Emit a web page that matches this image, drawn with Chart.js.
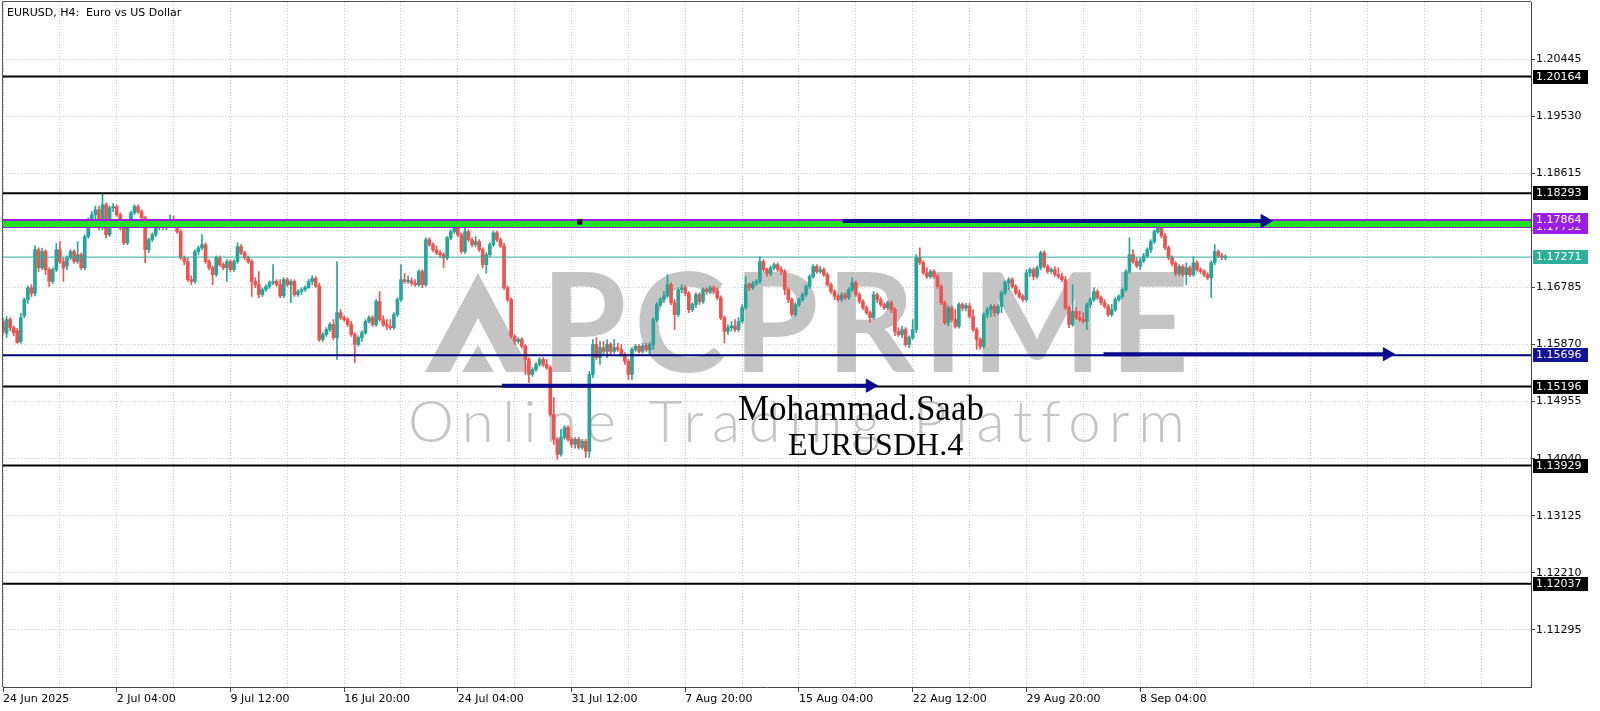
<!DOCTYPE html>
<html><head><meta charset="utf-8">
<script src="https://cdn.jsdelivr.net/npm/chart.js@4.4.1/dist/chart.umd.min.js"></script>
<style>html,body{margin:0;padding:0;background:#fff;overflow:hidden}canvas{display:block}</style>
</head><body>
<canvas id="c" width="1600" height="711"></canvas>
<script>
// ---------- DATA (EURUSD H4) ----------
const opens=[
1.1624,1.1605,1.1627,1.1614,1.1609,1.1592,1.1633,1.1659,1.1678,1.1669,
1.1739,1.1710,1.1736,1.1707,1.1688,1.1707,1.1739,1.1720,1.1713,1.1726,
1.1736,1.1720,1.1731,1.1710,1.1760,1.1784,1.1795,1.1803,1.1774,1.1811,
1.1763,1.1806,1.1808,1.1795,1.1774,1.1750,1.1779,1.1798,1.1808,1.1800,
1.1790,1.1739,1.1755,1.1763,1.1774,1.1784,1.1774,1.1784,1.1787,1.1779,
1.1768,1.1726,1.1720,1.1691,1.1688,1.1736,1.1742,1.1747,1.1720,1.1710,
1.1699,1.1726,1.1715,1.1710,1.1720,1.1707,1.1720,1.1744,1.1734,1.1726,
1.1720,1.1688,1.1683,1.1667,1.1675,1.1680,1.1686,1.1688,1.1683,1.1665,
1.1691,1.1683,1.1688,1.1667,1.1672,1.1675,1.1678,1.1688,1.1693,1.1681,
1.1595,1.1603,1.1611,1.1619,1.1598,1.1638,1.1630,1.1627,1.1619,1.1603,
1.1587,1.1598,1.1606,1.1624,1.1630,1.1619,1.1656,1.1627,1.1619,1.1616,
1.1614,1.1635,1.1659,1.1691,1.1688,1.1689,1.1685,1.1683,1.1704,1.1683,
1.1755,1.1747,1.1739,1.1734,1.1731,1.1726,1.1758,1.1768,1.1774,1.1763,
1.1736,1.1768,1.1755,1.1747,1.1752,1.1739,1.1715,1.1731,1.1747,1.1766,
1.1755,1.1745,1.1678,1.1659,1.1600,1.1592,1.1595,1.1584,1.1563,1.1539,
1.1547,1.1555,1.1563,1.1555,1.1550,1.1475,1.1435,1.1411,1.1438,1.1454,
1.1435,1.1427,1.1435,1.1422,1.1432,1.1416,1.1539,1.1587,1.1566,1.1582,
1.1576,1.1587,1.1576,1.1582,1.1579,1.1571,1.1560,1.1539,1.1579,1.1584,
1.1576,1.1585,1.1579,1.1587,1.1627,1.1651,1.1659,1.1665,1.1683,1.1654,
1.1635,1.1675,1.1678,1.1669,1.1643,1.1651,1.1667,1.1656,1.1675,1.1672,
1.1678,1.1673,1.1662,1.1630,1.1608,1.1614,1.1617,1.1611,1.1624,1.1646,
1.1683,1.1678,1.1685,1.1688,1.1720,1.1707,1.1701,1.1710,1.1715,1.1707,
1.1704,1.1675,1.1659,1.1635,1.1651,1.1659,1.1667,1.1680,1.1696,1.1712,
1.1704,1.1707,1.1699,1.1683,1.1672,1.1664,1.1659,1.1667,1.1662,1.1675,
1.1686,1.1667,1.1656,1.1646,1.1638,1.1630,1.1667,1.1659,1.1651,1.1646,
1.1654,1.1643,1.1608,1.1603,1.1611,1.1587,1.1598,1.1611,1.1726,1.1718,
1.1702,1.1696,1.1704,1.1696,1.1680,1.1654,1.1622,1.1646,1.1627,1.1616,
1.1651,1.1645,1.1649,1.1632,1.1611,1.1595,1.1584,1.1635,1.1643,1.1648,
1.1638,1.1648,1.1670,1.1686,1.1691,1.1680,1.1670,1.1664,1.1659,1.1702,
1.1707,1.1696,1.1710,1.1734,1.1712,1.1704,1.1707,1.1699,1.1696,1.1691,
1.1646,1.1619,1.1640,1.1630,1.1627,1.1624,1.1651,1.1659,1.1672,1.1662,
1.1654,1.1648,1.1635,1.1643,1.1659,1.1664,1.1675,1.1704,1.1731,1.1720,
1.1713,1.1721,1.1729,1.1739,1.1752,1.1768,1.1774,1.1761,1.1742,1.1726,
1.1717,1.1701,1.1712,1.1699,1.1710,1.1699,1.1718,1.1707,1.1704,1.1699,
1.1694,1.1718,1.1736,1.1729,1.1726];
const highs=[
1.1629,1.1632,1.1630,1.1617,1.1613,1.1637,1.1662,1.1681,1.1683,1.1745,
1.1742,1.1741,1.1739,1.1710,1.1710,1.1749,1.1752,1.1726,1.1729,1.1739,
1.1739,1.1752,1.1734,1.1763,1.1790,1.1800,1.1809,1.1809,1.1829,1.1814,
1.1809,1.1813,1.1811,1.1798,1.1777,1.1782,1.1801,1.1811,1.1811,1.1803,
1.1793,1.1758,1.1766,1.1777,1.1787,1.1787,1.1787,1.1795,1.1793,1.1782,
1.1771,1.1729,1.1726,1.1697,1.1739,1.1745,1.1763,1.1750,1.1723,1.1713,
1.1729,1.1729,1.1718,1.1723,1.1723,1.1723,1.1750,1.1747,1.1737,1.1729,
1.1723,1.1694,1.1704,1.1678,1.1683,1.1689,1.1715,1.1691,1.1691,1.1694,
1.1694,1.1691,1.1691,1.1675,1.1678,1.1681,1.1691,1.1697,1.1696,1.1685,
1.1606,1.1614,1.1622,1.1627,1.1720,1.1643,1.1633,1.1630,1.1624,1.1606,
1.1601,1.1609,1.1627,1.1633,1.1633,1.1659,1.1672,1.1633,1.1627,1.1627,
1.1638,1.1662,1.1715,1.1701,1.1697,1.1694,1.1691,1.1707,1.1707,1.1758,
1.1758,1.1750,1.1745,1.1737,1.1734,1.1760,1.1771,1.1784,1.1784,1.1766,
1.1779,1.1771,1.1758,1.1760,1.1755,1.1742,1.1734,1.1750,1.1769,1.1769,
1.1758,1.1749,1.1681,1.1662,1.1603,1.1598,1.1598,1.1587,1.1566,1.1550,
1.1558,1.1566,1.1566,1.1563,1.1553,1.1502,1.1438,1.1451,1.1457,1.1457,
1.1438,1.1438,1.1438,1.1435,1.1435,1.1544,1.1595,1.1598,1.1592,1.1592,
1.1595,1.1590,1.1595,1.1589,1.1587,1.1574,1.1563,1.1582,1.1587,1.1587,
1.1589,1.1589,1.1590,1.1630,1.1654,1.1662,1.1672,1.1699,1.1686,1.1659,
1.1678,1.1683,1.1681,1.1672,1.1654,1.1670,1.1670,1.1678,1.1678,1.1681,
1.1681,1.1678,1.1665,1.1633,1.1619,1.1624,1.1627,1.1630,1.1651,1.1696,
1.1686,1.1688,1.1691,1.1728,1.1723,1.1710,1.1713,1.1718,1.1718,1.1712,
1.1707,1.1678,1.1662,1.1654,1.1662,1.1670,1.1683,1.1699,1.1715,1.1715,
1.1712,1.1710,1.1702,1.1686,1.1675,1.1667,1.1670,1.1670,1.1678,1.1694,
1.1689,1.1670,1.1659,1.1649,1.1641,1.1672,1.1670,1.1662,1.1654,1.1657,
1.1657,1.1646,1.1614,1.1616,1.1614,1.1601,1.1627,1.1731,1.1742,1.1721,
1.1710,1.1707,1.1707,1.1699,1.1683,1.1657,1.1649,1.1649,1.1643,1.1654,
1.1654,1.1653,1.1653,1.1643,1.1614,1.1598,1.1638,1.1646,1.1651,1.1651,
1.1651,1.1673,1.1689,1.1694,1.1694,1.1683,1.1675,1.1667,1.1707,1.1710,
1.1710,1.1713,1.1737,1.1737,1.1715,1.1710,1.1712,1.1710,1.1702,1.1696,
1.1649,1.1683,1.1646,1.1640,1.1638,1.1654,1.1662,1.1678,1.1675,1.1665,
1.1659,1.1651,1.1651,1.1662,1.1667,1.1678,1.1707,1.1758,1.1739,1.1726,
1.1726,1.1733,1.1742,1.1755,1.1771,1.1779,1.1777,1.1765,1.1745,1.1729,
1.1720,1.1715,1.1715,1.1718,1.1713,1.1728,1.1721,1.1710,1.1707,1.1702,
1.1721,1.1747,1.1739,1.1733,1.1731];
const lows=[
1.1603,1.1598,1.1609,1.1601,1.1589,1.1589,1.1630,1.1653,1.1664,1.1665,
1.1704,1.1707,1.1699,1.1680,1.1685,1.1704,1.1717,1.1688,1.1707,1.1723,
1.1717,1.1717,1.1707,1.1707,1.1757,1.1779,1.1787,1.1771,1.1771,1.1758,
1.1760,1.1800,1.1792,1.1771,1.1747,1.1747,1.1776,1.1795,1.1797,1.1787,
1.1718,1.1734,1.1752,1.1760,1.1771,1.1771,1.1771,1.1781,1.1776,1.1765,
1.1723,1.1715,1.1688,1.1683,1.1685,1.1731,1.1739,1.1717,1.1707,1.1683,
1.1696,1.1712,1.1707,1.1688,1.1704,1.1704,1.1717,1.1731,1.1723,1.1717,
1.1664,1.1678,1.1662,1.1664,1.1672,1.1677,1.1683,1.1680,1.1662,1.1662,
1.1680,1.1654,1.1664,1.1664,1.1667,1.1672,1.1677,1.1683,1.1678,1.1592,
1.1592,1.1600,1.1608,1.1595,1.1563,1.1627,1.1624,1.1616,1.1600,1.1558,
1.1584,1.1592,1.1603,1.1621,1.1616,1.1616,1.1624,1.1616,1.1611,1.1611,
1.1611,1.1632,1.1656,1.1685,1.1685,1.1681,1.1680,1.1680,1.1678,1.1680,
1.1744,1.1736,1.1731,1.1726,1.1710,1.1723,1.1755,1.1765,1.1760,1.1733,
1.1733,1.1752,1.1744,1.1744,1.1736,1.1710,1.1701,1.1728,1.1744,1.1752,
1.1742,1.1675,1.1656,1.1597,1.1587,1.1589,1.1581,1.1539,1.1526,1.1536,
1.1544,1.1552,1.1552,1.1547,1.1472,1.1427,1.1403,1.1408,1.1435,1.1432,
1.1422,1.1421,1.1419,1.1419,1.1406,1.1406,1.1534,1.1563,1.1555,1.1570,
1.1566,1.1571,1.1573,1.1576,1.1568,1.1555,1.1531,1.1531,1.1576,1.1573,
1.1573,1.1576,1.1570,1.1579,1.1624,1.1648,1.1654,1.1662,1.1651,1.1611,
1.1632,1.1670,1.1665,1.1638,1.1640,1.1646,1.1651,1.1653,1.1667,1.1669,
1.1670,1.1659,1.1627,1.1590,1.1603,1.1609,1.1608,1.1608,1.1621,1.1643,
1.1673,1.1675,1.1681,1.1685,1.1704,1.1696,1.1697,1.1707,1.1704,1.1699,
1.1667,1.1654,1.1632,1.1632,1.1648,1.1656,1.1664,1.1677,1.1693,1.1701,
1.1701,1.1696,1.1680,1.1669,1.1659,1.1656,1.1656,1.1659,1.1659,1.1672,
1.1664,1.1653,1.1643,1.1635,1.1622,1.1627,1.1654,1.1648,1.1643,1.1643,
1.1638,1.1601,1.1600,1.1598,1.1584,1.1582,1.1595,1.1606,1.1715,1.1699,
1.1693,1.1693,1.1693,1.1677,1.1651,1.1619,1.1617,1.1624,1.1613,1.1613,
1.1641,1.1641,1.1629,1.1608,1.1579,1.1579,1.1581,1.1630,1.1632,1.1632,
1.1635,1.1638,1.1667,1.1675,1.1677,1.1667,1.1661,1.1656,1.1656,1.1696,
1.1691,1.1693,1.1707,1.1710,1.1701,1.1701,1.1696,1.1693,1.1688,1.1643,
1.1614,1.1616,1.1627,1.1624,1.1621,1.1611,1.1646,1.1656,1.1659,1.1651,
1.1645,1.1632,1.1632,1.1640,1.1656,1.1661,1.1672,1.1701,1.1717,1.1710,
1.1707,1.1718,1.1726,1.1734,1.1749,1.1765,1.1758,1.1739,1.1723,1.1713,
1.1697,1.1697,1.1696,1.1683,1.1696,1.1696,1.1704,1.1701,1.1696,1.1691,
1.1662,1.1715,1.1726,1.1723,1.1723];
const closes=[
1.1608,1.1627,1.1614,1.1606,1.1590,1.1630,1.1659,1.1678,1.1669,1.1739,
1.1710,1.1736,1.1707,1.1688,1.1707,1.1739,1.1720,1.1710,1.1726,1.1736,
1.1720,1.1731,1.1710,1.1760,1.1784,1.1795,1.1803,1.1774,1.1811,1.1763,
1.1806,1.1808,1.1795,1.1774,1.1750,1.1779,1.1798,1.1808,1.1800,1.1790,
1.1739,1.1755,1.1763,1.1774,1.1784,1.1774,1.1784,1.1787,1.1779,1.1768,
1.1726,1.1720,1.1691,1.1688,1.1736,1.1742,1.1747,1.1720,1.1710,1.1699,
1.1726,1.1715,1.1710,1.1720,1.1707,1.1720,1.1744,1.1734,1.1726,1.1720,
1.1688,1.1683,1.1667,1.1675,1.1680,1.1686,1.1688,1.1683,1.1665,1.1691,
1.1683,1.1688,1.1667,1.1672,1.1675,1.1678,1.1688,1.1693,1.1681,1.1595,
1.1603,1.1611,1.1619,1.1598,1.1638,1.1630,1.1627,1.1619,1.1603,1.1587,
1.1598,1.1606,1.1624,1.1630,1.1619,1.1656,1.1627,1.1619,1.1616,1.1614,
1.1635,1.1659,1.1691,1.1688,1.1689,1.1685,1.1683,1.1704,1.1683,1.1755,
1.1747,1.1739,1.1734,1.1731,1.1726,1.1758,1.1768,1.1774,1.1763,1.1736,
1.1768,1.1755,1.1747,1.1752,1.1739,1.1715,1.1731,1.1747,1.1766,1.1755,
1.1745,1.1678,1.1659,1.1600,1.1592,1.1595,1.1584,1.1563,1.1539,1.1547,
1.1555,1.1563,1.1555,1.1550,1.1475,1.1435,1.1411,1.1438,1.1454,1.1435,
1.1427,1.1435,1.1422,1.1432,1.1416,1.1539,1.1587,1.1566,1.1582,1.1576,
1.1587,1.1576,1.1582,1.1579,1.1571,1.1560,1.1539,1.1579,1.1584,1.1576,
1.1585,1.1579,1.1587,1.1627,1.1651,1.1659,1.1665,1.1683,1.1654,1.1635,
1.1675,1.1678,1.1669,1.1643,1.1651,1.1667,1.1656,1.1675,1.1672,1.1678,
1.1673,1.1662,1.1630,1.1608,1.1614,1.1617,1.1611,1.1624,1.1646,1.1683,
1.1678,1.1685,1.1688,1.1720,1.1707,1.1701,1.1710,1.1715,1.1707,1.1704,
1.1675,1.1659,1.1635,1.1651,1.1659,1.1667,1.1680,1.1696,1.1712,1.1704,
1.1707,1.1699,1.1683,1.1672,1.1664,1.1659,1.1667,1.1662,1.1675,1.1686,
1.1667,1.1656,1.1646,1.1638,1.1630,1.1667,1.1659,1.1651,1.1646,1.1654,
1.1643,1.1608,1.1603,1.1611,1.1587,1.1598,1.1611,1.1726,1.1718,1.1702,
1.1696,1.1704,1.1696,1.1680,1.1654,1.1622,1.1646,1.1627,1.1616,1.1651,
1.1645,1.1649,1.1632,1.1611,1.1595,1.1584,1.1635,1.1643,1.1648,1.1638,
1.1648,1.1670,1.1686,1.1691,1.1680,1.1670,1.1664,1.1659,1.1702,1.1707,
1.1696,1.1710,1.1734,1.1712,1.1704,1.1707,1.1699,1.1696,1.1691,1.1646,
1.1619,1.1640,1.1630,1.1627,1.1624,1.1651,1.1659,1.1672,1.1662,1.1654,
1.1648,1.1635,1.1643,1.1659,1.1664,1.1675,1.1704,1.1731,1.1720,1.1713,
1.1721,1.1729,1.1739,1.1752,1.1768,1.1774,1.1761,1.1742,1.1726,1.1717,
1.1701,1.1712,1.1699,1.1710,1.1699,1.1718,1.1707,1.1704,1.1699,1.1694,
1.1718,1.1736,1.1729,1.1726,1.1727];

const xTickBars=[0,32,64,96,128,160,192,224,256,288,320];
const xTickLabels=['24 Jun 2025','2 Jul 04:00','9 Jul 12:00','16 Jul 20:00','24 Jul 04:00','31 Jul 12:00','7 Aug 20:00','15 Aug 04:00','22 Aug 12:00','29 Aug 20:00','8 Sep 04:00'];
const yTickValues=[1.11295,1.12210,1.13125,1.14040,1.14955,1.15870,1.16785,1.17700,1.18615,1.19530,1.20445];
const blackLevels=[1.20164,1.18293,1.15196,1.13929,1.12037];
const navyLevel=1.15696;
const bandTop=1.17864;
const bandBottom=1.17752;
const lastPrice=1.17271;
const arrowStart=[140.4,236.3,309.7];
const arrowEnd=[244.0,355.1,389.5];
const arrowPrice=[1.15210,1.17850,1.15715];
const markerBar=162.3, markerPrice=1.17834;

// ---------- styling / layout ----------
const X_MIN=0, X_MAX=430, Y_MIN=1.10380, Y_MAX=1.21360;
const UP='#26a69a', DN='#ef5350', NAVY='#0a0a8c', PURPLE='#9a1ee6', GREEN='#22e022', TEAL='#2fae9c';
const FONT='"DejaVu Sans", Verdana, sans-serif';

const idx=closes.map((_,i)=>i);
const isUp=i=>closes[i]>=opens[i];
const candleColor=ctx=>isUp(ctx.dataIndex)?UP:DN;

const hline=(v,color,w,order,extra)=>Object.assign({
  type:'line',data:[{x:X_MIN,y:v},{x:X_MAX,y:v}],borderColor:color,borderWidth:w,
  pointRadius:0,fill:false,order:order},extra||{});

const datasets=[];
for(let k=0;k<arrowStart.length;k++){
  datasets.push({type:'line',data:[{x:arrowStart[k],y:arrowPrice[k]},{x:arrowEnd[k],y:arrowPrice[k]}],
    borderColor:NAVY,borderWidth:4,borderCapStyle:'butt',fill:false,
    pointRadius:[0,7.5],pointStyle:'triangle',pointRotation:[0,90],
    pointBackgroundColor:NAVY,pointBorderColor:NAVY,pointBorderWidth:1,order:0});
}
datasets.push({type:'line',data:[{x:markerBar,y:markerPrice}],showLine:false,pointStyle:'rect',
  pointRadius:3,pointBackgroundColor:'#000',pointBorderColor:'#000',order:0});
blackLevels.forEach(v=>datasets.push(hline(v,'#000',2,1)));
datasets.push(hline(navyLevel,'#000080',2,1));
datasets.push(hline(bandTop,PURPLE,2,2,{fill:{value:bandBottom},backgroundColor:GREEN}));
datasets.push(hline(bandBottom,PURPLE,2,2));
datasets.push(hline(lastPrice,TEAL,1,3));
datasets.push({type:'bar',data:idx.map(i=>({x:i,y:[opens[i],closes[i]]})),backgroundColor:candleColor,
  borderWidth:0,barThickness:3,minBarLength:1,grouped:false,order:4});
datasets.push({type:'bar',data:idx.map(i=>({x:i,y:[lows[i],highs[i]]})),backgroundColor:candleColor,
  borderWidth:0,barThickness:1,minBarLength:1,grouped:false,order:5});

const noPad=s=>{s.paddingLeft=0;s.paddingRight=0;s.paddingTop=0;s.paddingBottom=0;};

const deco={
  id:'deco',
  beforeDatasetsDraw(chart){
    const c=chart.ctx; c.save();
    c.fillStyle='#c4c4c4';
    c.beginPath();c.moveTo(425,372);c.lineTo(478,273);c.lineTo(531,372);c.lineTo(506,372);c.lineTo(478,318);c.lineTo(450,372);c.closePath();c.fill();
    c.beginPath();c.moveTo(462,372);c.lineTo(478,345);c.lineTo(494,372);c.closePath();c.fill();
    c.textBaseline='alphabetic';c.textAlign='left';
    c.font='bold 138px Lato, "DejaVu Sans", sans-serif';
    let t='PCPRIME';c.letterSpacing='0px';let w=c.measureText(t).width;
    c.letterSpacing=((1189-541-w)/(t.length-1))+'px';
    c.fillText(t,541,372);
    c.font='300 58px Lato, "DejaVu Sans", sans-serif';
    t='Online Trading Platform';c.letterSpacing='0px';w=c.measureText(t).width;
    c.letterSpacing=((1184-408-w)/(t.length-1))+'px';
    c.fillText(t,408,442);
    c.restore();
  },
  afterDatasetsDraw(chart){
    const c=chart.ctx; c.save();
    c.fillStyle='#000';c.textBaseline='alphabetic';c.textAlign='left';
    c.font='35px "Liberation Serif", "Times New Roman", serif';
    c.fillText('Mohammad.Saab',738,420);
    c.font='32px "Liberation Serif", "Times New Roman", serif';
    c.fillText('EURUSDH.4',788,455);
    c.restore();
  },
  afterDraw(chart){
    const c=chart.ctx, a=chart.chartArea, ys=chart.scales.y;
    c.save();
    c.strokeStyle='#555';c.lineWidth=1;
    c.beginPath();c.moveTo(a.left-0.5,a.bottom);c.lineTo(a.left-0.5,a.top-0.5);c.lineTo(a.right,a.top-0.5);c.stroke();
    c.fillStyle='#000';c.font='11px '+FONT;c.textBaseline='alphabetic';
    c.fillText('EURUSD, H4:  Euro vs US Dollar',7,16);
    const boxes=[[1.20164,'#000'],[1.18293,'#000'],[bandBottom,PURPLE],[bandTop,PURPLE],[lastPrice,TEAL],
      [navyLevel,'#12129a'],[1.15196,'#000'],[1.13929,'#000'],[1.12037,'#000']];
    c.textBaseline='middle';
    boxes.forEach(([v,bg])=>{
      const y=Math.round(ys.getPixelForValue(v));
      c.fillStyle=bg;c.fillRect(a.right+2,y-7,55,14);
      c.fillStyle='#fff';c.fillText(v.toFixed(5),a.right+5,y+0.5);
    });
    c.restore();
  }
};

new Chart(document.getElementById('c'),{
  type:'bar',
  data:{datasets},
  options:{
    responsive:false,animation:false,devicePixelRatio:1,events:[],
    layout:{autoPadding:false,padding:{left:3,top:2,right:0,bottom:0}},
    plugins:{legend:{display:false},tooltip:{enabled:false},title:{display:false}},
    scales:{
      x:{type:'linear',min:X_MIN,max:X_MAX,offset:false,position:'bottom',
        afterBuildTicks(s){const t=[];for(let v=0;v<=X_MAX;v+=16)t.push({value:v});s.ticks=t;},
        afterFit(s){s.height=24;noPad(s);},
        ticks:{autoSkip:false,maxRotation:0,minRotation:0,align:'start',padding:1,color:'#000',
          font:{family:FONT,size:11},
          callback(v){const k=xTickBars.indexOf(v);return k<0?'':xTickLabels[k];}},
        grid:{display:true,offset:false,color:'#c9c9c9',lineWidth:1,drawTicks:true,tickLength:5,tickWidth:1,
          tickColor:ctx=>(ctx.tick&&xTickBars.indexOf(ctx.tick.value)>=0)?'#444':'rgba(0,0,0,0)'},
        border:{display:true,color:'#444',width:1,dash:[1,2]}
      },
      y:{type:'linear',position:'right',min:Y_MIN,max:Y_MAX,beginAtZero:false,
        afterBuildTicks(s){s.ticks=yTickValues.map(v=>({value:v}));},
        afterFit(s){s.width=69;noPad(s);},
        ticks:{padding:1,color:'#000',font:{family:FONT,size:11},callback:v=>Number(v).toFixed(5)},
        grid:{display:true,color:'#c9c9c9',lineWidth:1,drawTicks:true,tickLength:4,tickColor:'#444'},
        border:{display:true,color:'#444',width:1,dash:[1,2]}
      }
    }
  },
  plugins:[deco]
});
</script>
</body></html>
